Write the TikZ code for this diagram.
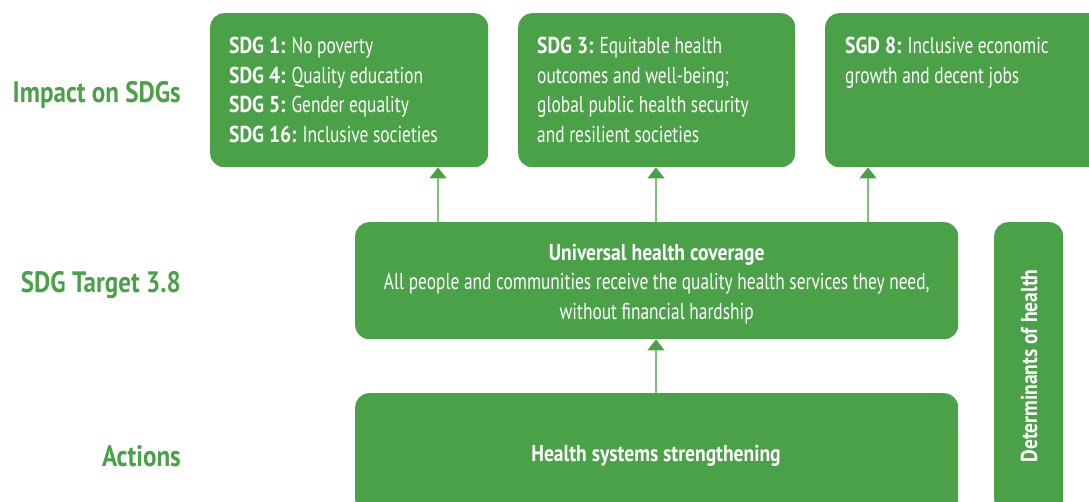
\documentclass[tikz,border=0pt]{standalone}
\usepackage{fontspec}
\setmainfont{PT Sans}[FakeStretch=0.755, BoldFeatures={FakeStretch=0.85}]
\usetikzlibrary{positioning,arrows.meta}
\definecolor{sdggreen}{RGB}{75,161,72}
\definecolor{linkgreen}{RGB}{128,192,122}

\begin{document}
\begin{tikzpicture}[x=1pt,y=-1pt,
    box/.style = {fill=sdggreen, rounded corners=14pt, inner sep=0pt, anchor=north west},
    boxtext/.style = {text=white, font=\fontsize{23}{29.5}\selectfont, inner sep=0pt},
    rowlabel/.style = {text=sdggreen, font=\fontsize{29.5}{34}\selectfont\bfseries, anchor=east, inner sep=0pt},
    arrow/.style = {draw=linkgreen, line width=1.3pt, -{Triangle[width=17pt,length=11pt,sdggreen]}}]
    \useasboundingbox (0,0) rectangle (1089,501);

    % row labels
    \node[rowlabel] (impact)  at (181,95)  {Impact on SDGs};
    \node[rowlabel] (target)  at (181,285) {SDG Target 3.8};
    \node[rowlabel] (actions) at (181,456) {Actions};

    % SDG boxes
    \node[box, minimum width=278pt, minimum height=154pt] (sdg1) at (210,13) {};
    \node[box, minimum width=277pt, minimum height=154pt] (sdg3) at (518,13) {};
    \node[box, minimum width=300pt, minimum height=154pt] (sdg8) at (825,13) {};
    \node[boxtext, align=left, anchor=north west] (sdg1txt) at ([shift={(19,24)}]sdg1.north west)
        {\textbf{SDG 1:} No poverty\\ \textbf{SDG 4:} Quality education\\
         \textbf{SDG 5:} Gender equality\\ \textbf{SDG 16:} Inclusive societies};
    \node[boxtext, align=left, anchor=north west] (sdg3txt) at ([shift={(19,24)}]sdg3.north west)
        {\textbf{SDG 3:} Equitable health\\ outcomes and well-being;\\
         global public health security\\ and resilient societies};
    \node[boxtext, align=left, anchor=north west] (sdg8txt) at ([shift={(20,24)}]sdg8.north west)
        {\textbf{SGD 8:} Inclusive economic\\ growth and decent jobs};

    % target and actions
    \node[box, minimum width=603pt, minimum height=117pt] (uhc) at (355,222) {};
    \node[boxtext, align=center] (uhctxt) at ([yshift=-3]uhc.center)
        {\textbf{Universal health coverage}\\
         All people and communities receive the quality health services they need,\\
         without financial hardship};
    \node[box, minimum width=603pt, minimum height=120pt] (hss) at (355,393) {};
    \node[boxtext] (hsstxt) at (656,456) {\textbf{Health systems strengthening}};

    % determinants
    \node[box, minimum width=69pt, minimum height=291pt] (det) at (994,222) {};
    \node[boxtext, rotate=90] (dettxt) at (1029,366) {\textbf{Determinants of health}};

    % links
    \coordinate (c1) at (438,0);
    \coordinate (c3) at (656,0);
    \coordinate (c8) at (868,0);
    \draw[arrow] (uhc.north -| c1) -- (sdg1.south -| c1);
    \draw[arrow] (uhc.north -| c3) -- (sdg3.south -| c3);
    \draw[arrow] (uhc.north -| c8) -- (sdg8.south -| c8);
    \draw[arrow] (hss.north -| c3) -- (uhc.south -| c3);

\end{tikzpicture}
\end{document}
